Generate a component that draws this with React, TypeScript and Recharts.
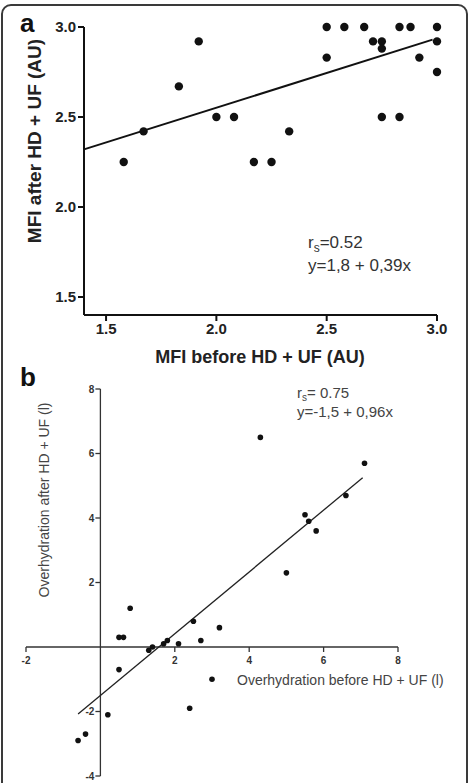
import React from 'react';
import { ScatterChart, Scatter, XAxis, YAxis, ReferenceLine, ReferenceDot } from 'recharts';

// panel a: MFI before vs after
const mfiBefore = [1.58, 1.67, 1.83, 1.92, 2.0, 2.08, 2.17, 2.25, 2.33, 2.5, 2.5, 2.58, 2.67, 2.71, 2.75, 2.75, 2.75, 2.83, 2.83, 2.88, 2.92, 3.0, 3.0, 3.0];
const mfiAfter = [2.25, 2.42, 2.67, 2.92, 2.5, 2.5, 2.25, 2.25, 2.42, 3.0, 2.83, 3.0, 3.0, 2.92, 2.92, 2.88, 2.5, 3.0, 2.5, 3.0, 2.83, 3.0, 2.92, 2.75];
const mfiTicks = [1.5, 2.0, 2.5, 3.0];
const mfiFit = [
  { x: 1.4, y: 2.32 },
  { x: 2.98, y: 2.93 },
];

// panel b: overhydration before vs after
const ohBefore = [4.3, 7.1, 6.6, 5.5, 5.6, 5.8, 5.0, 0.8, 0.5, 0.62, 2.5, 3.2, 2.7, 2.1, 1.8, 1.7, 1.4, 1.3, 0.5, 3.0, 2.4, 0.2, -0.4, -0.6];
const ohAfter = [6.5, 5.7, 4.7, 4.1, 3.9, 3.6, 2.3, 1.2, 0.3, 0.3, 0.8, 0.6, 0.2, 0.1, 0.2, 0.1, 0.0, -0.1, -0.7, -1.0, -1.9, -2.1, -2.7, -2.9];
const ohXTicks = [-2, 2, 4, 6, 8];
const ohYTicks = [-4, -2, 2, 4, 6, 8];
const ohFit = [
  { x: -0.6, y: -2.08 },
  { x: 7.05, y: 5.25 },
];

const dataA = mfiBefore.map((x, i) => ({ x, y: mfiAfter[i] }));
const dataB = ohBefore.map((x, i) => ({ x, y: ohAfter[i] }));

const FONT = '"Liberation Sans", Arial, sans-serif';

const XTick = (props: any) => {
  const { cx, cy, value } = props;
  return (
    <g>
      <line x1={cx} y1={cy} x2={cx} y2={cy + 5} stroke="#333" strokeWidth={1.3} />
      <text x={cx} y={cy + 17} textAnchor="middle" fontSize={10} fontWeight="bold" fill="#333">{value}</text>
    </g>
  );
};

const YTick = (props: any) => {
  const { cx, cy, value } = props;
  return (
    <g>
      <line x1={cx - 5} y1={cy} x2={cx} y2={cy} stroke="#333" strokeWidth={1.3} />
      <text x={cx - 6} y={cy + 3.5} textAnchor="end" fontSize={10} fontWeight="bold" fill="#333">{value}</text>
    </g>
  );
};

const App = () => {
  return (
    <div style={{ position: 'absolute', left: 0, top: 0, width: 469, height: 783, overflow: 'hidden', background: '#fff', fontFamily: FONT }}>
      <div style={{ position: 'absolute', left: 1, top: 4, width: 467, height: 800, boxSizing: 'border-box', border: '2px solid #3a3a3a', borderRadius: 10 }} />

      <div style={{ position: 'absolute', left: 0, top: 0 }}>
        <ScatterChart width={469} height={380} margin={{ top: 27, right: 32, bottom: 35, left: 44 }}>
          <XAxis
            type="number"
            dataKey="x"
            domain={[1.4, 3.0]}
            ticks={mfiTicks}
            tickFormatter={(v: number) => v.toFixed(1)}
            height={30}
            axisLine={{ stroke: '#111', strokeWidth: 2 }}
            tickLine={{ stroke: '#111', strokeWidth: 2 }}
            tickSize={6}
            tick={{ fill: '#222', fontSize: 15, fontWeight: 'bold' }}
          />
          <YAxis
            type="number"
            dataKey="y"
            domain={[1.4, 3.0]}
            ticks={mfiTicks}
            tickFormatter={(v: number) => v.toFixed(1)}
            width={40}
            axisLine={{ stroke: '#111', strokeWidth: 2 }}
            tickLine={{ stroke: '#111', strokeWidth: 2 }}
            tickSize={6}
            tickMargin={2}
            tick={{ fill: '#222', fontSize: 15, fontWeight: 'bold' }}
          />
          <ReferenceLine segment={mfiFit} stroke="#111" strokeWidth={2} />
          <Scatter
            data={dataA}
            isAnimationActive={false}
            shape={(p: any) => <circle cx={p.cx} cy={p.cy} r={4.2} fill="#111" />}
          />
        </ScatterChart>
      </div>

      <div style={{ position: 'absolute', left: 0, top: 370 }}>
        <ScatterChart width={469} height={413} margin={{ top: 19, right: 71, bottom: 7, left: 26 }}>
          <XAxis type="number" dataKey="x" domain={[-2, 8]} hide />
          <YAxis type="number" dataKey="y" domain={[-4, 8]} hide />
          <ReferenceLine y={0} stroke="#333" strokeWidth={1.3} />
          <ReferenceLine x={0} stroke="#333" strokeWidth={1.3} />
          {ohXTicks.map((t) => (
            <ReferenceDot key={'x' + t} x={t} y={0} r={0} shape={(p: any) => <XTick {...p} value={t} />} />
          ))}
          {ohYTicks.map((t) => (
            <ReferenceDot key={'y' + t} x={0} y={t} r={0} shape={(p: any) => <YTick {...p} value={t} />} />
          ))}
          <ReferenceLine segment={ohFit} stroke="#222" strokeWidth={1.3} />
          <Scatter
            data={dataB}
            isAnimationActive={false}
            shape={(p: any) => <circle cx={p.cx} cy={p.cy} r={2.8} fill="#111" />}
          />
        </ScatterChart>
      </div>

      <svg width={469} height={783} style={{ position: 'absolute', left: 0, top: 0, pointerEvents: 'none' }}>
        <g fontFamily={FONT}>
          <text x={20} y={32} fontSize={26} fontWeight="bold" fill="#111">a</text>
          <text x={20} y={386} fontSize={26} fontWeight="bold" fill="#111">b</text>

          <text x={41} y={141} transform="rotate(-90, 41, 141)" textAnchor="middle" fontSize={19} fontWeight="bold" fill="#222">MFI after HD + UF (AU)</text>
          <text x={260} y={363} textAnchor="middle" fontSize={18} fontWeight="bold" fill="#222">MFI before HD + UF (AU)</text>

          <text x={308} y={248} fontSize={17} fill="#333">
            <tspan>r</tspan>
            <tspan dy={4} fontSize={12}>s</tspan>
            <tspan dy={-4}>=0.52</tspan>
          </text>
          <text x={308} y={271} fontSize={17} fill="#333">y=1,8 + 0,39x</text>

          <text x={297} y={398} fontSize={15} fill="#444">
            <tspan>r</tspan>
            <tspan dy={3} fontSize={10}>s</tspan>
            <tspan dy={-3}>= 0.75</tspan>
          </text>
          <text x={297} y={417} fontSize={15} fill="#444">y=-1,5 + 0,96x</text>

          <text x={49} y={500} transform="rotate(-90, 49, 500)" textAnchor="middle" fontSize={14} fill="#444">Overhydration after HD + UF (l)</text>
          <text x={237} y={685} fontSize={14} fill="#444">Overhydration before HD + UF (l)</text>
        </g>
      </svg>
    </div>
  );
};

export default App;
